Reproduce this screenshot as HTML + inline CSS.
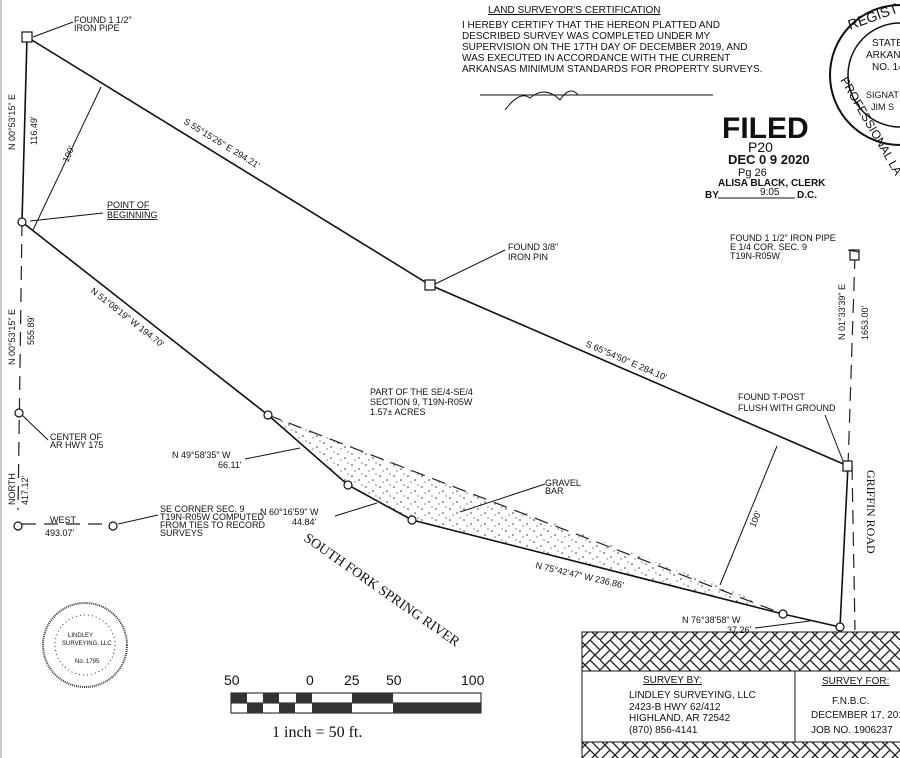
<!DOCTYPE html>
<html><head><meta charset="utf-8"><style>
html,body{margin:0;padding:0;background:#fff;}
svg{display:block;}
text{font-family:"Liberation Sans",sans-serif;fill:#111;}
.s{font-size:9px;}
.m{font-size:10px;}
</style></head><body>
<svg width="900" height="758" viewBox="0 0 900 758" xmlns="http://www.w3.org/2000/svg">
<defs>
<pattern id="hb" width="20" height="20" patternUnits="userSpaceOnUse">
<path d="M0 10 L10 0 L20 10 M0 20 L10 10 L20 20 M5 5 L10 10 M15 15 L20 10 M0 0 L5 5 M10 20 L15 15" stroke="#222" stroke-width="1.3" fill="none"/>
</pattern>
<pattern id="dots" width="14" height="11" patternUnits="userSpaceOnUse">
<circle cx="2" cy="3" r="0.8" fill="#333"/><circle cx="9" cy="7" r="0.8" fill="#333"/><circle cx="12" cy="1" r="0.6" fill="#333"/><circle cx="5" cy="9" r="0.6" fill="#333"/>
</pattern>
</defs>
<rect width="900" height="758" fill="#fff"/>
<line x1="1" y1="0" x2="1" y2="758" stroke="#999" stroke-width="1"/>
<polygon points="268,415 348,485 412,520 783,614 730,590" fill="url(#dots)"/>
<g stroke="#111" stroke-width="1.6" fill="none">
<polyline points="27,37 430,285 848,466"/>
<polyline points="27,37 22,222"/>
<polyline points="22,222 268,415 348,485 412,520 783,614 840,627 848,466"/>
</g>
<g stroke="#222" stroke-width="1.2" fill="none" stroke-dasharray="14,8">
<line x1="268" y1="415" x2="783" y2="614"/>
<line x1="22" y1="222" x2="18" y2="510"/>
<line x1="855" y1="255" x2="848" y2="466"/>
<line x1="852" y1="466" x2="855" y2="630"/>
<line x1="22" y1="524" x2="112" y2="524"/>
</g>
<g stroke="#111" stroke-width="1.2" fill="#fff">
<rect x="22" y="32" width="10" height="10"/>
<rect x="425" y="280" width="10" height="10"/>
<rect x="843" y="461" width="9" height="10"/>
<rect x="850" y="250" width="9" height="10"/>
<circle cx="22" cy="222" r="4"/>
<circle cx="268" cy="415" r="4"/>
<circle cx="348" cy="485" r="4"/>
<circle cx="412" cy="520" r="4"/>
<circle cx="783" cy="614" r="4"/>
<circle cx="840" cy="627" r="4"/>
<circle cx="19" cy="413" r="4"/>
<circle cx="18" cy="526" r="4"/>
<circle cx="113" cy="526" r="4"/>
</g>
<g stroke="#111" stroke-width="1" fill="none">
<line x1="33" y1="37" x2="73" y2="22"/>
<line x1="30" y1="221" x2="103" y2="213"/>
<line x1="435" y1="284" x2="505" y2="250"/>
<line x1="843" y1="461" x2="825" y2="415"/>
<line x1="859" y1="252" x2="848" y2="250"/>
<line x1="22" y1="415" x2="48" y2="440"/>
<line x1="118" y1="524" x2="158" y2="515"/>
<line x1="245" y1="459" x2="300" y2="448"/>
<line x1="335" y1="516" x2="377" y2="503"/>
<line x1="460" y1="512" x2="545" y2="484"/>
<line x1="755" y1="628" x2="810" y2="621"/>
<line x1="33" y1="230" x2="101" y2="87"/>
<line x1="720" y1="585" x2="777" y2="446"/>
</g>
<text class="s" x="74" y="23">FOUND 1 1/2"</text><text class="s" x="74" y="31">IRON PIPE</text>
<text class="s" x="107" y="208" text-decoration="underline">POINT OF</text><text class="s" x="107" y="218" text-decoration="underline">BEGINNING</text>
<text class="s" x="508" y="250">FOUND 3/8"</text><text class="s" x="508" y="260">IRON PIN</text>
<text class="s" x="50" y="440">CENTER OF</text><text class="s" x="50" y="448">AR HWY 175</text>
<text class="s" x="160" y="512">SE CORNER SEC. 9</text><text class="s" x="160" y="520">T19N-R05W COMPUTED</text><text class="s" x="160" y="528">FROM TIES TO RECORD</text><text class="s" x="160" y="536">SURVEYS</text>
<text class="s" x="50" y="523">WEST</text><text class="s" x="45" y="536">493.07'</text>
<text class="s" transform="translate(15,505) rotate(-90)">NORTH</text><text class="s" transform="translate(28,505) rotate(-90)">417.12'</text>
<text class="s" transform="translate(15,150) rotate(-90)">N 00°53'15" E</text><text class="s" transform="translate(37,145) rotate(-90)">116.49'</text>
<text class="s" transform="translate(15,365) rotate(-90)">N 00°53'15" E</text><text class="s" transform="translate(34,345) rotate(-90)">555.89'</text>
<text class="s" transform="translate(68,163) rotate(-67)">100'</text>
<text class="s" transform="translate(755,528) rotate(-68)">100'</text>
<text class="s" transform="translate(183,123) rotate(31.6)">S 55°15'26" E   294.21'</text>
<text class="s" transform="translate(585,346) rotate(23.4)">S 65°54'50" E   284.10'</text>
<text class="s" transform="translate(90,292) rotate(38)">N 51°08'19" W   194.70'</text>
<text class="s" transform="translate(535,568) rotate(13)">N 75°42'47" W   236.86'</text>
<text class="s" x="370" y="395">PART OF THE SE/4-SE/4</text><text class="s" x="370" y="405">SECTION 9, T19N-R05W</text><text class="s" x="370" y="415">1.57± ACRES</text>
<text class="s" x="172" y="458">N 49°58'35" W</text><text class="s" x="218" y="468">66.11'</text>
<text class="s" x="260" y="515">N 60°16'59" W</text><text class="s" x="292" y="525">44.84'</text>
<text class="s" x="682" y="623">N 76°38'58" W</text><text class="s" x="727" y="633">37.26'</text>
<text class="s" x="545" y="486" font-size="7">GRAVEL</text><text class="s" x="545" y="494" font-size="7">BAR</text>
<text class="s" x="738" y="400">FOUND T-POST</text><text class="s" x="738" y="411">FLUSH WITH GROUND</text>
<text class="s" x="730" y="241" font-size="8">FOUND 1 1/2" IRON PIPE</text><text class="s" x="730" y="250" font-size="8">E 1/4 COR. SEC. 9</text><text class="s" x="730" y="259" font-size="8">T19N-R05W</text>
<text class="s" transform="translate(845,340) rotate(-90)">N 01°33'39" E</text><text class="s" transform="translate(868,340) rotate(-90)">1653.00'</text>
<text style="font-family:'Liberation Serif',serif;font-size:12px" transform="translate(867,470) rotate(90)">GRIFFIN ROAD</text>
<text style="font-family:'Liberation Serif',serif;font-size:14px" transform="translate(303,540) rotate(35)">SOUTH FORK SPRING RIVER</text>
<text class="m" x="488" y="13" text-decoration="underline">LAND SURVEYOR'S CERTIFICATION</text>
<text class="m" x="462" y="28">I HEREBY CERTIFY THAT THE HEREON PLATTED AND</text>
<text class="m" x="462" y="39">DESCRIBED SURVEY WAS COMPLETED UNDER MY</text>
<text class="m" x="462" y="50">SUPERVISION ON THE 17TH DAY OF DECEMBER 2019, AND</text>
<text class="m" x="462" y="61">WAS EXECUTED IN ACCORDANCE WITH THE CURRENT</text>
<text class="m" x="462" y="72">ARKANSAS MINIMUM STANDARDS FOR PROPERTY SURVEYS.</text>
<line x1="480" y1="95" x2="713" y2="95" stroke="#111"/>
<path d="M505 110 Q520 90 530 98 Q545 85 560 100 Q570 85 578 95" stroke="#111" fill="none"/>
<text x="722" y="138" style="font-size:30px;font-weight:bold;">FILED</text>
<text x="748" y="152" style="font-size:14px">P20</text>
<text x="728" y="164" style="font-size:13px;font-weight:bold">DEC 0 9 2020</text>
<text x="738" y="176" style="font-size:11px">Pg 26</text>
<text x="718" y="186" style="font-size:10px;font-weight:bold">ALISA BLACK, CLERK</text>
<text x="705" y="198" style="font-size:10px;font-weight:bold">BY</text><line x1="718" y1="198" x2="795" y2="198" stroke="#111"/><text x="760" y="195" style="font-size:10px">9:05</text><text x="797" y="198" style="font-size:10px;font-weight:bold">D.C.</text>
<circle cx="900" cy="75" r="70" fill="none" stroke="#111" stroke-width="2"/>
<circle cx="900" cy="75" r="52" fill="none" stroke="#111" stroke-width="1.5"/>
<text x="850" y="30" style="font-size:14px" transform="rotate(-20 850 30)">REGIST</text>
<text x="872" y="46" style="font-size:10px">STATE</text><text x="866" y="58" style="font-size:10px">ARKAN</text><text x="872" y="70" style="font-size:10px">NO. 14</text>
<text x="866" y="98" style="font-size:9px">SIGNAT</text><text x="871" y="110" style="font-size:9px">JIM S</text>
<text x="840" y="80" style="font-size:12px" transform="rotate(60 840 80)">PROFESSIONAL LA</text>
<circle cx="85" cy="645" r="42" fill="none" stroke="#333" stroke-width="2" stroke-dasharray="1,1"/>
<circle cx="85" cy="645" r="30" fill="none" stroke="#333" stroke-dasharray="1,3"/>
<text x="68" y="637" font-size="6">LINDLEY</text><text x="62" y="645" font-size="6">SURVEYING, LLC</text><text x="75" y="663" font-size="6">No. 1795</text>
<g font-family="Liberation Sans" font-size="14">
<text x="224" y="685">50</text><text x="306" y="685">0</text><text x="344" y="685">25</text><text x="386" y="685">50</text><text x="461" y="685">100</text>
</g>
<rect x="231" y="693" width="250" height="20" fill="#fff" stroke="#111"/>
<line x1="231" y1="703" x2="481" y2="703" stroke="#111"/>
<g fill="#333">
<rect x="231" y="693" width="16" height="10"/><rect x="263" y="693" width="16" height="10"/><rect x="296" y="693" width="16" height="10"/>
<rect x="247" y="703" width="16" height="10"/><rect x="279" y="703" width="16" height="10"/><rect x="312" y="703" width="40" height="10"/>
<rect x="352" y="693" width="41" height="10"/><rect x="393" y="703" width="88" height="10"/>
</g>
<text x="272" y="737" style="font-family:'Liberation Serif',serif;font-size:16px">1 inch  =  50   ft.</text>
<rect x="582" y="632" width="330" height="130" fill="url(#hb)" stroke="#111"/>
<rect x="582" y="671" width="213" height="71" fill="#fff" stroke="#111"/>
<rect x="795" y="671" width="120" height="71" fill="#fff" stroke="#111"/>
<text x="643" y="683" class="m" text-decoration="underline">SURVEY BY:</text>
<text x="629" y="698" class="m">LINDLEY SURVEYING, LLC</text>
<text x="629" y="710" class="m">2423-B HWY 62/412</text>
<text x="629" y="721" class="m">HIGHLAND, AR 72542</text>
<text x="629" y="733" class="m">(870) 856-4141</text>
<text x="822" y="684" class="m" text-decoration="underline">SURVEY FOR:</text>
<text x="832" y="704" class="m">F.N.B.C.</text>
<text x="811" y="718" class="m">DECEMBER 17, 2019</text>
<text x="811" y="733" class="m">JOB NO. 1906237</text>
</svg>
</body></html>
